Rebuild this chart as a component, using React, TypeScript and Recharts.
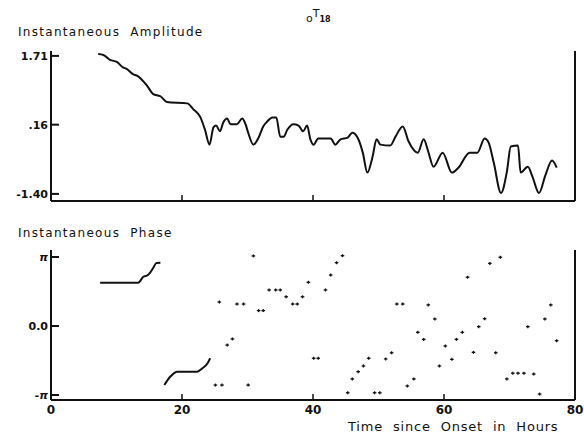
import React from 'react';
import { ComposedChart, Line, Scatter, XAxis, YAxis } from 'recharts';

// instantaneous amplitude
const ampTime = [7.2, 8.0, 9.0, 10.1, 10.9, 11.6, 12.5, 13.2, 14.7, 15.6, 16.7, 17.7, 20.8, 21.7, 22.8, 23.5, 24.2, 24.8, 25.2, 25.8, 26.3, 26.9, 27.4, 28.4, 29.2, 29.7, 30.1, 30.9, 31.7, 32.4, 33.0, 33.8, 34.4, 35.0, 35.5, 36.1, 37.0, 37.8, 38.5, 39.1, 39.6, 40.1, 40.8, 42.7, 43.4, 44.2, 45.3, 46.0, 46.8, 47.6, 48.3, 49.1, 49.7, 50.3, 51.8, 52.6, 53.7, 54.6, 56.0, 56.9, 57.6, 58.4, 59.8, 61.2, 62.2, 63.9, 65.1, 66.2, 66.8, 67.6, 68.7, 69.6, 70.2, 71.3, 71.7, 72.8, 73.5, 74.5, 75.5, 76.5, 77.2];
const ampValue = [1.75, 1.73, 1.62, 1.57, 1.46, 1.41, 1.30, 1.26, 1.03, 0.85, 0.80, 0.67, 0.64, 0.51, 0.33, 0.05, -0.29, 0.10, 0.14, 0.01, 0.21, 0.30, 0.17, 0.17, 0.30, 0.17, -0.02, -0.29, -0.13, 0.12, 0.23, 0.32, 0.32, -0.11, -0.11, 0.05, 0.17, 0.14, 0.01, 0.14, -0.17, -0.29, -0.15, -0.15, -0.29, -0.17, -0.13, -0.02, -0.13, -0.47, -0.92, -0.56, -0.17, -0.29, -0.31, -0.11, 0.12, -0.22, -0.47, -0.17, -0.45, -0.79, -0.47, -0.92, -0.81, -0.47, -0.47, -0.15, -0.24, -0.70, -1.38, -0.90, -0.33, -0.31, -0.92, -0.79, -1.01, -1.38, -0.97, -0.65, -0.81];

// instantaneous phase: two continuous stretches, then scattered points
const phaseATime = [7.5, 13.3, 14.1, 14.8, 15.6, 16.1, 16.7];
const phaseAValue = [1.97, 1.97, 2.24, 2.32, 2.64, 2.87, 2.88];
const phaseBTime = [17.3, 18.2, 19.3, 22.3, 23.1, 23.9, 24.3];
const phaseBValue = [-2.69, -2.31, -2.08, -2.08, -1.93, -1.70, -1.47];
const dotTime = [25.1, 26.1, 25.7, 26.9, 27.7, 28.4, 29.4, 30.1, 30.9, 31.7, 32.4, 33.3, 34.3, 35.0, 35.9, 36.9, 37.6, 38.4, 39.3, 40.1, 40.8, 41.9, 42.7, 43.6, 44.5, 45.3, 46.0, 46.9, 47.7, 48.5, 49.4, 50.2, 51.1, 52.0, 52.8, 53.7, 54.4, 55.4, 56.0, 56.9, 57.6, 58.6, 59.3, 60.2, 61.2, 61.9, 62.8, 63.6, 64.5, 65.3, 66.2, 67.0, 67.9, 68.6, 69.6, 70.5, 71.3, 72.2, 72.8, 73.7, 74.6, 75.4, 76.3, 77.2];
const dotPhase = [-2.69, -2.69, 1.09, -0.87, -0.59, 1.00, 1.00, -2.69, 3.19, 0.70, 0.70, 1.64, 1.64, 1.64, 1.33, 1.00, 1.00, 1.33, 1.99, -1.47, -1.47, 1.64, 2.32, 2.88, 3.20, -3.04, -2.41, -2.08, -1.82, -1.47, -3.04, -3.04, -1.50, -1.22, 1.00, 1.00, -2.73, -2.41, -0.29, -0.61, 0.96, 0.32, -1.82, -0.91, -1.52, -0.61, -0.29, 2.22, -1.20, -0.03, 0.33, 2.85, -1.22, 3.13, -2.41, -2.15, -2.15, -2.15, -0.03, -2.19, -3.10, 0.32, 0.96, -0.67];

const ampTicks = [1.71, 0.16, -1.4];
const ampTickLabels = ['1.71', '.16', '-1.40'];
const phaseTicks = [Math.PI, 0, -Math.PI];
const phaseTickLabels = ['\u03c0', '0.0', '-\u03c0'];
const timeTicks = [0, 20, 40, 60, 80];
const timeInnerTicks = [20, 40, 60];

const ampData = ampTime.map((t, i) => ({ t, amp: ampValue[i] }));
const phaseA = phaseATime.map((t, i) => ({ t, ph: phaseAValue[i] }));
const phaseB = phaseBTime.map((t, i) => ({ t, ph: phaseBValue[i] }));
const dots = dotTime.map((t, i) => ({ t, ph: dotPhase[i] }));

const INK = '#111';
const FONT = '"DejaVu Sans", sans-serif';

const makeLeftTick = (ticks: number[], labels: string[], italic = false) => (props: any) => {
  const { x, y, payload } = props;
  const idx = ticks.indexOf(payload.value);
  const lbl = idx >= 0 ? labels[idx] : '';
  return (
    <g>
      <line x1={x} x2={x + 8} y1={y} y2={y} stroke={INK} strokeWidth={2} />
      <text x={x - 3} y={y} dy={4} textAnchor="end" fontSize={11} fontFamily={FONT}
        fill={INK} fontStyle={lbl.includes('\u03c0') && italic ? 'italic' : 'normal'} fontWeight="bold">
        {lbl}
      </text>
    </g>
  );
};

const RightTick = (props: any) => {
  const { x, y } = props;
  return <line x1={x - 8} x2={x} y1={y} y2={y} stroke={INK} strokeWidth={2} />;
};

const TopXTick = (props: any) => {
  const { x, y, payload } = props;
  if (!timeInnerTicks.includes(payload.value)) return <g />;
  return <line x1={x} x2={x} y1={y} y2={y - 6} stroke={INK} strokeWidth={1.5} />;
};

const BottomXTick = (props: any) => {
  const { x, y, payload } = props;
  return (
    <g>
      {timeInnerTicks.includes(payload.value) && (
        <line x1={x} x2={x} y1={y} y2={y - 6} stroke={INK} strokeWidth={1.5} />
      )}
      <text x={x} y={y + 14} textAnchor="middle" fontSize={12} fontFamily={FONT} fill={INK} fontWeight="bold">
        {payload.value}
      </text>
    </g>
  );
};

const PlusDot = (props: any) => {
  const { cx, cy } = props;
  return (
    <g stroke={INK} strokeWidth={1.3}>
      <line x1={cx - 1.8} x2={cx + 1.8} y1={cy} y2={cy} />
      <line x1={cx} x2={cx} y1={cy - 1.5} y2={cy + 1.5} />
    </g>
  );
};

const axisLine = { stroke: INK, strokeWidth: 2 };

const titleStyle: React.CSSProperties = {
  position: 'absolute',
  fontFamily: FONT,
  fontSize: 12,
  color: INK,
  letterSpacing: 1.3,
  wordSpacing: 5,
  whiteSpace: 'nowrap',
};

export default function App() {
  return (
    <div style={{ position: 'absolute', left: 0, top: 0, width: 584, height: 436, background: '#fff' }}>
      <div style={{ ...titleStyle, left: 306, top: 6, fontSize: 12, letterSpacing: 0 }}>
        <span style={{ fontSize: 11, position: 'relative', top: 5 }}>o</span>
        <span style={{ fontSize: 11 }}>T</span>
        <span style={{ fontSize: 8, position: 'relative', top: 5, fontWeight: 'bold' }}>18</span>
      </div>
      <div style={{ ...titleStyle, left: 18, top: 25 }}>Instantaneous Amplitude</div>
      <div style={{ ...titleStyle, left: 18, top: 226 }}>Instantaneous Phase</div>
      <div style={{ ...titleStyle, left: 348, top: 419, fontSize: 13, letterSpacing: 0.8 }}>
        Time since Onset in Hours
      </div>

      <div style={{ position: 'absolute', left: 0, top: 0 }}>
        <ComposedChart width={584} height={210} data={ampData} margin={{ top: 51, right: 8, left: 0, bottom: 0 }}>
          <XAxis dataKey="t" type="number" domain={[0, 80]} ticks={timeTicks} height={9}
            axisLine={axisLine} tickLine={false} tickSize={0} tickMargin={0} tick={<TopXTick />} />
          <YAxis yAxisId="l" type="number" domain={[-1.56, 1.82]} ticks={ampTicks} width={51}
            axisLine={axisLine} tickLine={false} tickSize={0} tickMargin={0}
            tick={makeLeftTick(ampTicks, ampTickLabels)} />
          <YAxis yAxisId="r" orientation="right" type="number" domain={[-1.56, 1.82]} ticks={ampTicks} width={1}
            axisLine={axisLine} tickLine={false} tickSize={0} tickMargin={0} tick={<RightTick />} />
          <Line yAxisId="l" type="monotone" dataKey="amp" stroke={INK} strokeWidth={2}
            dot={false} isAnimationActive={false} />
        </ComposedChart>
      </div>

      <div style={{ position: 'absolute', left: 0, top: 240 }}>
        <ComposedChart width={584} height={196} margin={{ top: 10, right: 8, left: 0, bottom: 0 }}>
          <XAxis dataKey="t" type="number" domain={[0, 80]} ticks={timeTicks} height={36}
            axisLine={axisLine} tickLine={false} tickSize={0} tickMargin={0} tick={<BottomXTick />} />
          <YAxis yAxisId="l" dataKey="ph" type="number" domain={[-3.37, 3.46]} ticks={phaseTicks} width={51}
            axisLine={axisLine} tickLine={false} tickSize={0} tickMargin={0}
            tick={makeLeftTick(phaseTicks, phaseTickLabels, true)} />
          <YAxis yAxisId="r" orientation="right" type="number" domain={[-3.37, 3.46]} ticks={phaseTicks} width={1}
            axisLine={axisLine} tickLine={false} tickSize={0} tickMargin={0} tick={<RightTick />} />
          <Line yAxisId="l" data={phaseA} type="monotone" dataKey="ph" stroke={INK} strokeWidth={2}
            dot={false} isAnimationActive={false} />
          <Line yAxisId="l" data={phaseB} type="monotone" dataKey="ph" stroke={INK} strokeWidth={2}
            dot={false} isAnimationActive={false} />
          <Scatter yAxisId="l" data={dots} dataKey="ph" shape={<PlusDot />} isAnimationActive={false} />
        </ComposedChart>
      </div>
    </div>
  );
}
